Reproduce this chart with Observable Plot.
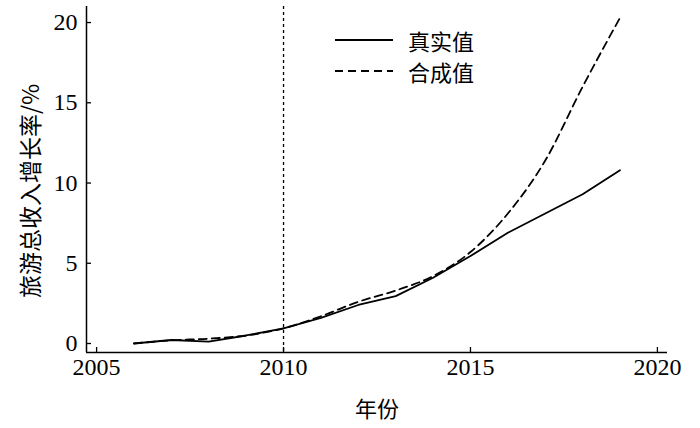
<!DOCTYPE html>
<html><head><meta charset="utf-8">
<script src="https://cdn.jsdelivr.net/npm/d3@7"></script>
<script src="https://cdn.jsdelivr.net/npm/@observablehq/plot@0.6"></script>
<style>
body{margin:0;background:#fff}
#wrap{position:relative;width:700px;height:428px}
#legend{position:absolute;left:0;top:0}
</style></head><body><div id="wrap"></div>
<script>
const years = [2006, 2007, 2008, 2009, 2010, 2011, 2012, 2013, 2014, 2015, 2016, 2017, 2018, 2019];
const realValues = [0.0, 0.22, 0.12, 0.5, 0.95, 1.6, 2.4, 2.95, 4.1, 5.45, 6.9, 8.1, 9.3, 10.8];
const synthValues = [0.0, 0.2, 0.3, 0.5, 0.95, 1.7, 2.6, 3.3, 4.2, 5.7, 8.1, 11.4, 16.0, 20.3];
const xTicks = [2005, 2010, 2015, 2020];
const yTicks = [0, 5, 10, 15, 20];
const xDomain = [2004.73, 2020.27];
const yDomain = [-0.56, 21.0];
const markerYear = 2010;
const seriesNames = ["真实值", "合成值"];
const xLabel = "年份";
const yLabel = "旅游总收入增长率/%";

const real = years.map((year, i) => ({year, value: realValues[i]}));
const synth = years.map((year, i) => ({year, value: synthValues[i]}));

const serif = "'Liberation Serif', 'Times New Roman', serif";
const cjk = "'Noto Sans CJK SC', 'Noto Sans', sans-serif";

const chart = Plot.plot({
  width: 700, height: 428,
  marginLeft: 86, marginRight: 33, marginTop: 6, marginBottom: 76,
  x: {domain: xDomain, axis: null},
  y: {domain: yDomain, axis: null},
  marks: [
    Plot.ruleX([markerYear], {stroke: "#000", strokeWidth: 1.3, strokeDasharray: "3,3"}),
    Plot.line(real, {x: "year", y: "value", stroke: "#000", strokeWidth: 1.8}),
    Plot.line(synth, {x: "year", y: "value", stroke: "#000", strokeWidth: 1.8, strokeDasharray: "8,5", curve: "monotone-x"}),
    Plot.ruleX([xDomain[0]], {stroke: "#000", strokeWidth: 1.5}),
    Plot.ruleY([yDomain[0]], {stroke: "#000", strokeWidth: 1.5}),
    Plot.axisX(xTicks, {tickSize: 5, dy: -5, tickFormat: () => "", strokeWidth: 1.3, label: null}),
    Plot.axisX(xTicks, {tickSize: 0, tickPadding: 5, fontSize: 24, fontFamily: serif, tickFormat: d => String(d), label: null}),
    Plot.axisY(yTicks, {tickSize: 5, dx: 5, tickFormat: () => "", strokeWidth: 1.3, label: null}),
    Plot.axisY(yTicks, {tickSize: 0, tickPadding: 9, fontSize: 24, fontFamily: serif, label: null}),
    Plot.text([xLabel], {frameAnchor: "bottom", dy: 64, fontSize: 22, fontFamily: cjk, fill: "#000"})
  ]
});
const wrap = document.getElementById("wrap");
wrap.appendChild(chart);

// legend and y-axis title overlay
const leg = d3.select(wrap).append("svg").attr("id", "legend").attr("width", 700).attr("height", 428);
const dashes = [null, "8,5"];
seriesNames.forEach((name, i) => {
  const yy = 40 + i * 31;
  leg.append("line").attr("x1", 335).attr("x2", 393).attr("y1", yy).attr("y2", yy)
    .attr("stroke", "#000").attr("stroke-width", 1.8).attr("stroke-dasharray", dashes[i]);
  leg.append("text").attr("x", 408).attr("y", yy).attr("dominant-baseline", "central")
    .attr("font-size", 22).attr("font-family", cjk).attr("fill", "#000").text(name);
});
leg.append("text").attr("transform", "translate(29,191) rotate(-90)")
  .attr("text-anchor", "middle").attr("dominant-baseline", "central")
  .attr("font-size", 23).attr("font-family", cjk).attr("fill", "#000").text(yLabel);
</script></body></html>
